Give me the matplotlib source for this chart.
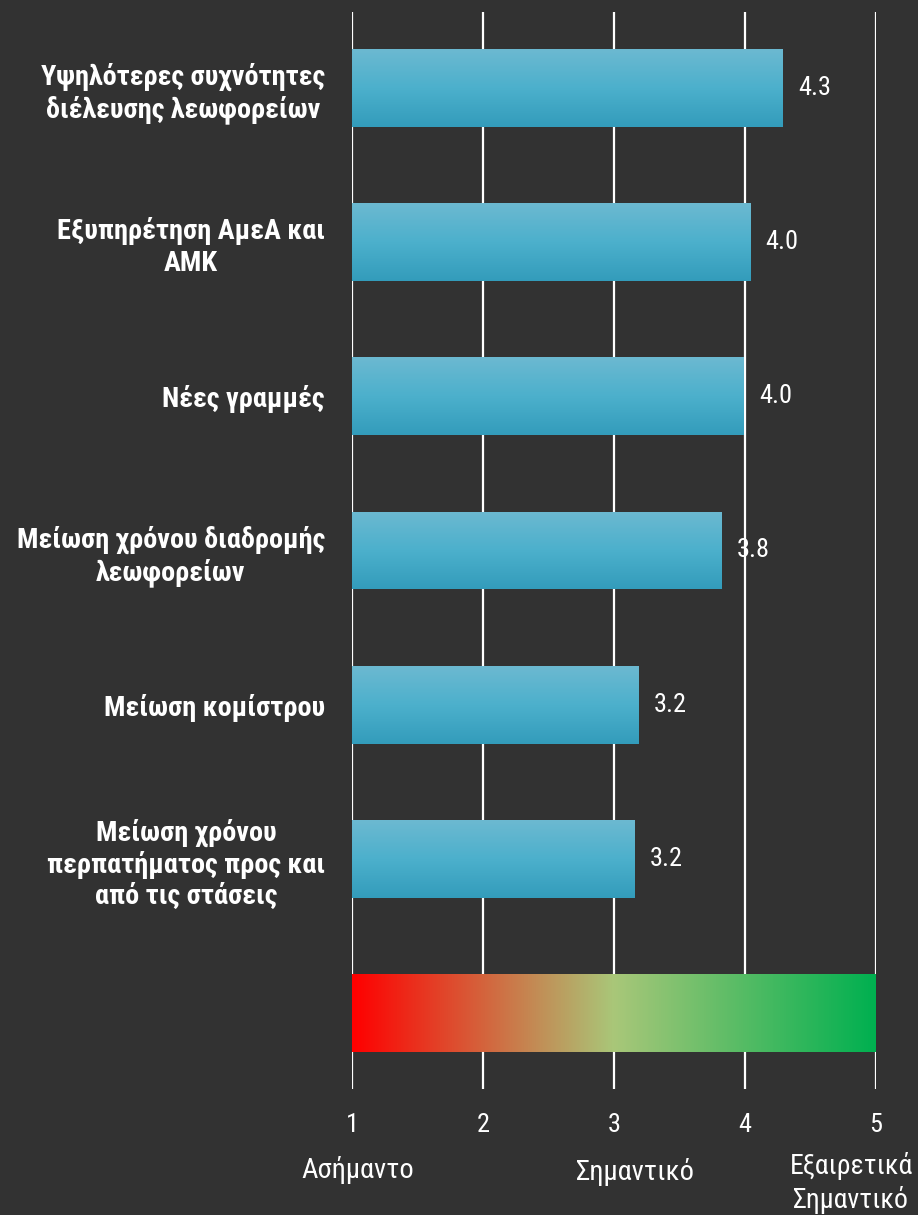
import matplotlib
matplotlib.use("Agg")
import matplotlib.pyplot as plt
import numpy as np
from matplotlib import font_manager
from matplotlib.colors import LinearSegmentedColormap
from matplotlib.transforms import blended_transform_factory

# --- data -------------------------------------------------------------
categories = [
    "Υψηλότερες συχνότητες\nδιέλευσης λεωφορείων",
    "Εξυπηρέτηση ΑμεΑ και\nΑΜΚ",
    "Νέες γραμμές",
    "Μείωση χρόνου διαδρομής\nλεωφορείων",
    "Μείωση κομίστρου",
    "Μείωση χρόνου\nπερπατήματος προς και\nαπό τις στάσεις",
]
scores = [4.29, 4.04, 3.99, 3.82, 3.19, 3.16]
scale_ticks = [1, 2, 3, 4, 5]
scale_words = ["Ασήμαντο", "Σημαντικό", "Εξαιρετικά\nΣημαντικό"]
scale_word_x = [1.04, 3.16, 4.81]

# --- fonts ------------------------------------------------------------
installed = {f.name for f in font_manager.fontManager.ttflist}
narrow = next((n for n in ["Roboto Condensed", "Fira Sans Condensed", "Liberation Sans Narrow"]
               if n in installed), "DejaVu Sans")
plt.rcParams["font.family"] = [narrow, "DejaVu Sans"]

BG = "#323232"
fig = plt.figure(figsize=(9.18, 12.15), dpi=100, facecolor=BG)
W, H = 918, 1215
ax = fig.add_axes([352 / W, 1 - 1089 / H, (876 - 352) / W, (1089 - 12) / H])
ax.set_facecolor(BG)

n_rows = len(categories) + 1
for s in ax.spines.values():
    s.set_visible(False)

# vertical grid lines at each scale point
for t in scale_ticks:
    ax.axvline(t, color="white", lw=1.6, zorder=1)

bar_h = 0.505
ypos = np.arange(len(categories))
bars = ax.barh(ypos, np.array(scores) - 1, left=1, height=bar_h,
               facecolor="none", edgecolor="none", zorder=2)

# vertical blue gradient inside each bar
blue = LinearSegmentedColormap.from_list("blue", ["#6cb9d1", "#4cb0cc", "#339cbb"])
grad_v = np.linspace(0, 1, 256).reshape(-1, 1)
for b in bars:
    x0, y0 = b.get_x(), b.get_y()
    w, h = b.get_width(), b.get_height()
    im = ax.imshow(grad_v, cmap=blue, aspect="auto", interpolation="bilinear",
                   extent=[x0, x0 + w, y0 + h, y0], zorder=3)
    im.set_clip_path(b)

# value labels
for y, v in zip(ypos, scores):
    ax.text(v + 0.115, y, f"{v:.1f}", color="white", fontsize=19,
            va="center", ha="left", zorder=4)

# red -> yellow-green -> green importance scale bar
scale_cmap = LinearSegmentedColormap.from_list("scale", ["#ff0000", "#a9c779", "#00b050"])
grad_h = np.linspace(0, 1, 512).reshape(1, -1)
ys = n_rows - 1
ax.imshow(grad_h, cmap=scale_cmap, aspect="auto", interpolation="bilinear",
          extent=[scale_ticks[0], scale_ticks[-1], ys + bar_h / 2, ys - bar_h / 2], zorder=3)

ax.set_xlim(1, 5)
ax.set_ylim(n_rows - 1 + 0.49, -0.49)

# category labels
ax.set_yticks(ypos)
ax.set_yticklabels(categories, fontsize=20.3, fontweight="bold", color="white", linespacing=1.2)
for lbl in ax.get_yticklabels():
    lbl.set_multialignment("center")
ax.tick_params(axis="y", length=0, pad=19.5)

ax.set_xticks(scale_ticks)
ax.set_xticklabels([str(t) for t in scale_ticks], fontsize=19, color="white")
ax.tick_params(axis="x", length=0, pad=17)

# descriptive words under the scale
tr = blended_transform_factory(ax.transData, fig.transFigure)
ax.text(scale_word_x[0], 1 - 1170 / H, scale_words[0], transform=tr, ha="center", va="center",
        fontsize=20.5, color="white")
ax.text(scale_word_x[1], 1 - 1172 / H, scale_words[1], transform=tr, ha="center", va="center",
        fontsize=20.5, color="white")
ax.text(scale_word_x[2], 1 - 1183 / H, scale_words[2], transform=tr, ha="center", va="center",
        fontsize=20, color="white", linespacing=1.3, clip_on=False)

fig.savefig("out.png", dpi=100, facecolor=BG)
